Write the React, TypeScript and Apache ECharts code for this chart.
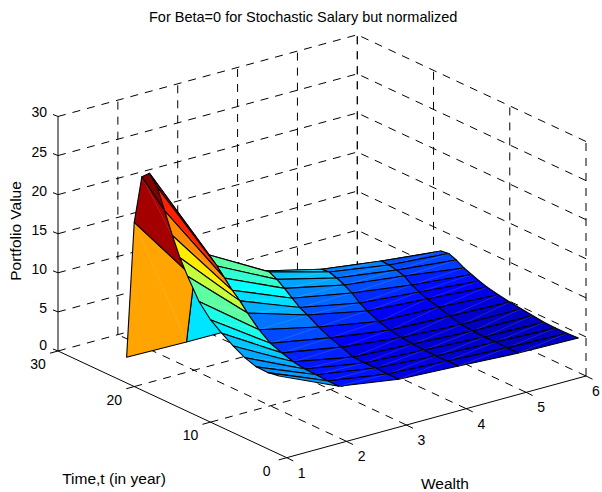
import React, { useEffect, useRef } from "react";
import * as echarts from "echarts";

const titleText = "For Beta=0 for Stochastic Salary but normalized";
const wealthTicks = [1, 2, 3, 4, 5, 6];
const timeTicks = [0, 10, 20, 30];
const valueTicks = [0, 5, 10, 15, 20, 25, 30];

const times = [1, 2.5, 4, 5.5, 7, 8.5, 10, 11.5, 13, 14, 15, 16, 17, 18, 19, 20, 21];
const wealthLevels = [1, 2, 3, 4, 5, 6];
const valueAtWealth1 = [10.0, 9.75, 9.8, 10.3, 11.1, 12.05, 13.1, 14.75, 17.3, 19.2, 21.6, 24.3, 26.9, 28.2, 27.3, 21.0, 3.3];
const valueAtWealth2 = [6.6, 6.6, 6.7, 6.75, 7.0, 7.45, 8.0, 9.05, 10.5, 11.6, 12.5, 13.6, 14.7, 15.65, 13.9, 11.8, 3.16];
const valueAtWealth3 = [5.4, 5.38, 5.47, 5.43, 5.5, 6.1, 6.6, 7.3, 8.16, 8.66, 9.4, 10.2, 10.9, 11.4, 11.05, 10.0, 3.1];
const valueAtWealth4 = [5.0, 4.97, 4.92, 5.0, 5.09, 5.23, 5.5, 5.92, 6.59, 7.15, 7.97, 8.54, 8.98, 9.3, 9.2, 8.0, 3.1];
const valueAtWealth5 = [4.57, 4.55, 4.62, 4.57, 4.65, 4.8, 5.2, 5.65, 6.02, 6.46, 6.9, 7.6, 7.9, 8.09, 8.15, 7.0, 3.1];
const valueAtWealth6 = [4.4, 4.33, 4.32, 4.37, 4.55, 4.73, 4.91, 5.16, 5.47, 5.78, 6.16, 6.54, 7.1, 7.48, 7.34, 6.0, 3.1];
const surfaceValues = [valueAtWealth1, valueAtWealth2, valueAtWealth3, valueAtWealth4, valueAtWealth5, valueAtWealth6];

const colorMin = 3;
const colorMax = 28.2;
const FONT = '14px "Liberation Sans", Arial, sans-serif';
const NAME_FONT = '15.5px "Liberation Sans", Arial, sans-serif';

// Orthographic view of the MATLAB box: screen position of a (wealth, time, value) point.
const project = (w: number, t: number, z: number): [number, number] => [
  286.7 + (w - 1) * 59.86 - t * 7.623,
  457.7 - (w - 1) * 16.34 - t * 3.557 - z * 7.817,
];

const jet = (v: number) => {
  const c = (x: number) => Math.round(255 * Math.max(0, Math.min(1, x)));
  const r = 1.5 - Math.abs(4 * v - 3);
  const g = 1.5 - Math.abs(4 * v - 2);
  const b = 1.5 - Math.abs(4 * v - 1);
  return `rgb(${c(r)},${c(g)},${c(b)})`;
};

type Seg = { a: number[]; b: number[]; dashed: boolean };
const segs: Seg[] = [];
for (const w of wealthTicks) {
  if (w !== 1) segs.push({ a: [w, 0, 0], b: [w, 30, 0], dashed: true });
  segs.push({ a: [w, 30, 0], b: [w, 30, 30], dashed: w !== 1 });
}
for (const t of timeTicks) {
  if (t !== 0) segs.push({ a: [1, t, 0], b: [6, t, 0], dashed: true });
  segs.push({ a: [6, t, 0], b: [6, t, 30], dashed: true });
}
for (const z of valueTicks) {
  if (z !== 0) segs.push({ a: [1, 30, z], b: [6, 30, z], dashed: true });
  if (z !== 0) segs.push({ a: [6, 0, z], b: [6, 30, z], dashed: true });
}
segs.push({ a: [1, 0, 0], b: [1, 30, 0], dashed: false });
segs.push({ a: [1, 0, 0], b: [6, 0, 0], dashed: false });

type Tick = { at: number[]; dx: number; dy: number };
const ticks: Tick[] = [
  ...valueTicks.map((z) => ({ at: [1, 30, z], dx: -5, dy: -2 })),
  ...timeTicks.map((t) => ({ at: [1, t, 0], dx: -8, dy: 2.2 })),
  ...wealthTicks.map((w) => ({ at: [w, 0, 0], dx: 6.5, dy: 3.2 })),
];

type Lab = { text: string; x: number; y: number; align: string; font: string };
const labels: Lab[] = [
  ...valueTicks.map((z) => {
    const [x, y] = project(1, 30, z);
    return { text: String(z), x: x - 11, y: y - (z === 0 ? 6 : 4), align: "right", font: FONT };
  }),
  ...timeTicks.map((t) => {
    const [x, y] = project(1, t, 0);
    return { text: String(t), x: x - 20, y: y + 13, align: "center", font: FONT };
  }),
  ...wealthTicks.map((w) => {
    const [x, y] = project(w, 0, 0);
    return { text: String(w), x: Math.min(x + 15, 596), y: y + 15, align: "center", font: FONT };
  }),
  { text: "Time,t (in year)", x: 114, y: 478, align: "center", font: NAME_FONT },
  { text: "Wealth", x: 445, y: 483, align: "center", font: NAME_FONT },
];

const cells: number[][] = [];
for (let j = times.length - 2; j >= 0; j--) {
  for (let i = wealthLevels.length - 2; i >= 0; i--) cells.push([j, i]);
}

export default function App() {
  const ref = useRef<HTMLDivElement>(null);
  useEffect(() => {
    const chart = echarts.init(ref.current!, undefined, { renderer: "svg" });
    const hiddenX = { type: "value", min: 0, max: 602, show: false };
    const hiddenY = { type: "value", min: 0, max: 492, inverse: true, show: false };
    chart.setOption({
      animation: false,
      backgroundColor: "#fff",
      title: {
        text: titleText,
        left: 144,
        top: 4,
        textStyle: { fontFamily: '"Liberation Sans", Arial, sans-serif', fontSize: 14.5, fontWeight: "normal", color: "#000" },
      },
      grid: { left: 0, right: 0, top: 0, bottom: 0 },
      xAxis: hiddenX,
      yAxis: hiddenY,
      series: [
        {
          type: "custom",
          silent: true,
          clip: false,
          data: segs.map((_, i) => [i, 0]),
          renderItem: (_p: any, api: any) => {
            const s = segs[api.value(0)];
            const a = api.coord(project(s.a[0], s.a[1], s.a[2]));
            const b = api.coord(project(s.b[0], s.b[1], s.b[2]));
            return {
              type: "line",
              shape: { x1: a[0], y1: a[1], x2: b[0], y2: b[1] },
              style: { stroke: "#000", lineWidth: 1, lineDash: s.dashed ? [8, 7] : null, fill: null },
            };
          },
        },
        {
          type: "custom",
          silent: true,
          clip: false,
          data: ticks.map((_, i) => [i, 0]),
          renderItem: (_p: any, api: any) => {
            const k = ticks[api.value(0)];
            const a = api.coord(project(k.at[0], k.at[1], k.at[2]));
            return {
              type: "line",
              shape: { x1: a[0], y1: a[1], x2: a[0] + k.dx, y2: a[1] + k.dy },
              style: { stroke: "#000", lineWidth: 1, fill: null },
            };
          },
        },
        {
          type: "custom",
          silent: true,
          clip: false,
          data: cells,
          renderItem: (_p: any, api: any) => {
            const j = api.value(0);
            const i = api.value(1);
            const corner = (jj: number, ii: number) =>
              api.coord(project(wealthLevels[ii], times[jj], surfaceValues[ii][jj]));
            const v = (surfaceValues[i][j] - colorMin) / (colorMax - colorMin);
            const p0 = corner(j, i);
            const p1 = corner(j + 1, i + 1);
            return {
              type: "group",
              children: [
                {
                  type: "polygon",
                  shape: { points: [p0, corner(j, i + 1), p1, corner(j + 1, i)] },
                  style: { fill: jet(v), stroke: "#000", lineWidth: 1.1, lineJoin: "round" },
                },
                {
                  type: "line",
                  shape: { x1: p0[0], y1: p0[1], x2: p1[0], y2: p1[1] },
                  style: { stroke: "rgba(255,255,255,0.16)", lineWidth: 0.8, fill: null },
                },
              ],
            };
          },
        },
        {
          type: "custom",
          silent: true,
          clip: false,
          data: labels.map((_, i) => [i, 0]),
          renderItem: (_p: any, api: any) => {
            const l = labels[api.value(0)];
            const p = api.coord([l.x, l.y]);
            return {
              type: "text",
              x: p[0],
              y: p[1],
              style: { text: l.text, font: l.font, fill: "#000", align: l.align, verticalAlign: "middle" },
            };
          },
        },
      ],
      graphic: [
        {
          type: "text",
          x: 15,
          y: 231,
          rotation: Math.PI / 2,
          style: { text: "Portfolio Value", font: NAME_FONT, fill: "#000", align: "center", verticalAlign: "middle" },
        },
      ],
    });
    return () => chart.dispose();
  }, []);
  return <div ref={ref} style={{ position: "absolute", left: 0, top: 0, width: 602, height: 492 }} />;
}
